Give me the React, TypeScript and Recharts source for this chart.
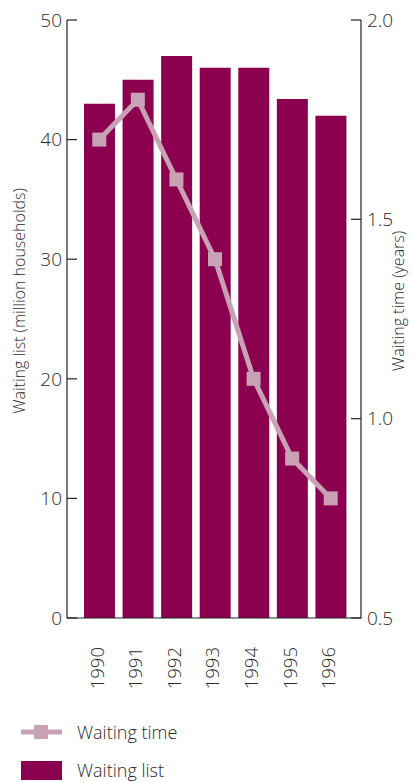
import { Bar, ComposedChart, Line, XAxis, YAxis } from 'recharts'

const years = ['1990', '1991', '1992', '1993', '1994', '1995', '1996']
const waitingList = [43, 45, 47, 46, 46, 43.4, 42]
const waitingTime = [1.7, 1.8, 1.6, 1.4, 1.1, 0.9, 0.8]
const listTicks = [0, 10, 20, 30, 40, 50]
const timeTicks = [0.5, 1.0, 1.5, 2.0]

const data = years.map((year, i) => ({
  year,
  list: waitingList[i],
  time: waitingTime[i],
}))

const barColor = '#8c0050'
const lineColor = '#c8a1b4'
const textColor = '#2a2a2a'
const font = '"Open Sans", "Noto Sans", sans-serif'

function YearTick(props: any) {
  const { x, y, payload } = props
  return (
    <text
      x={0}
      y={0}
      transform={`translate(${x - 2},${y + 21}) rotate(-90)`}
      textAnchor="end"
      dy="0.35em"
      fontSize={18.5}
      fontFamily={font}
      fontWeight={300}
      fill={textColor}
    >
      {payload.value}
    </text>
  )
}

function Square(props: any) {
  const { cx, cy } = props
  if (cx == null || cy == null) return null
  return <rect x={cx - 7} y={cy - 7} width={14} height={14} fill={lineColor} />
}

export default function App() {
  const tickStyle = { fontSize: 19, fill: textColor, fontFamily: font, fontWeight: 300 }
  const titleStyle = { fontSize: 16, fill: textColor, fontFamily: font, fontWeight: 300 }
  return (
    <div
      style={{
        position: 'absolute',
        left: 0,
        top: 0,
        width: 413,
        height: 782,
        background: '#fff',
        fontFamily: font,
      }}
    >
      <ComposedChart
        width={413}
        height={700}
        data={data}
        margin={{ top: 20, right: 0, bottom: 0, left: 0 }}
      >
        <XAxis
          dataKey="year"
          height={82}
          tickLine={false}
          axisLine={{ stroke: '#222', strokeWidth: 1.2 }}
          padding={{ left: 13, right: 11 }}
          tick={<YearTick />}
          interval={0}
        />
        <YAxis
          yAxisId="list"
          orientation="left"
          width={67}
          domain={[0, 50]}
          ticks={listTicks}
          tickSize={-10}
          tickMargin={15}
          axisLine={{ stroke: '#222', strokeWidth: 1.2 }}
          tickLine={{ stroke: '#222', strokeWidth: 1.2 }}
          tick={tickStyle}
        />
        <YAxis
          yAxisId="time"
          orientation="right"
          width={52}
          domain={[0.5, 2]}
          ticks={timeTicks}
          tickFormatter={(v: number) => v.toFixed(1)}
          tickSize={-10}
          tickMargin={16}
          axisLine={{ stroke: '#222', strokeWidth: 1.2 }}
          tickLine={{ stroke: '#222', strokeWidth: 1.2 }}
          tick={tickStyle}
        />
        <Bar
          yAxisId="list"
          dataKey="list"
          fill={barColor}
          barSize={31}
          isAnimationActive={false}
        />
        <Line
          yAxisId="time"
          dataKey="time"
          type="linear"
          stroke={lineColor}
          strokeWidth={5}
          dot={<Square />}
          activeDot={false}
          isAnimationActive={false}
        />
      </ComposedChart>

      {/* axis titles */}
      <svg width={413} height={700} style={{ position: 'absolute', left: 0, top: 0, pointerEvents: 'none' }}>
        <text transform="translate(25,301) rotate(-90)" textAnchor="middle" {...titleStyle}>
          Waiting list (million households)
        </text>
        <text transform="translate(404,301) rotate(-90)" textAnchor="middle" {...titleStyle}>
          Waiting time (years)
        </text>
      </svg>

      <div style={{ position: 'absolute', left: 21, top: 722, color: textColor, fontSize: 18, fontWeight: 300 }}>
        <div style={{ display: 'flex', alignItems: 'center', height: 20 }}>
          <svg width={41} height={20}>
            <line x1={0} y1={10} x2={41} y2={10} stroke={lineColor} strokeWidth={5} />
            <rect x={13} y={3} width={14} height={14} fill={lineColor} />
          </svg>
          <span style={{ marginLeft: 15 }}>Waiting time</span>
        </div>
        <div style={{ display: 'flex', alignItems: 'center', height: 20, marginTop: 18 }}>
          <div style={{ width: 41, height: 19, background: barColor }} />
          <span style={{ marginLeft: 15 }}>Waiting list</span>
        </div>
      </div>
    </div>
  )
}
